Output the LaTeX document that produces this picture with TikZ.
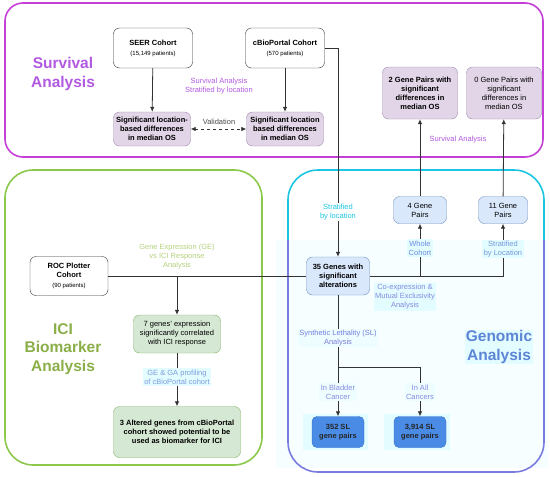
\documentclass[tikz,border=0pt]{standalone}
\usepackage{fontspec}
\setmainfont{Liberation Sans}
\usepackage{tikz}
\usetikzlibrary{arrows.meta, positioning}
\usepackage{xcolor}
\definecolor{survframe}{HTML}{C43FD6}
\definecolor{survtxt}{HTML}{B159E0}
\definecolor{iciframe}{HTML}{8CC84B}
\definecolor{icitxt}{HTML}{8AAE48}
\definecolor{icilbl}{HTML}{B4D07C}
\definecolor{gencyan}{HTML}{1CC6E2}
\definecolor{genblue}{HTML}{7A7DDD}
\definecolor{gentxt}{HTML}{5C85D6}
\definecolor{lblbg}{HTML}{E2FCFF}
\definecolor{purpfill}{HTML}{E1D5E7}
\definecolor{purpdraw}{HTML}{A08AAE}
\definecolor{grnfill}{HTML}{D5E8D4}
\definecolor{grndraw}{HTML}{82B366}
\definecolor{blufill}{HTML}{DAE8FC}
\definecolor{bludraw}{HTML}{6C8EBF}
\definecolor{slfill}{HTML}{4A8BE6}
\definecolor{sldraw}{HTML}{2C68CC}

\begin{document}
\begin{tikzpicture}[x=1pt, y=-1pt,
  cohort/.style={draw=black!80, fill=white, rounded corners=6pt, align=center,
                 inner sep=1pt, font=\fontsize{7.5}{9}\selectfont\bfseries},
  purp/.style={draw=purpdraw, fill=purpfill, rounded corners=6pt, align=center,
               inner sep=1pt, font=\fontsize{7.5}{9}\selectfont\bfseries},
  grn/.style={draw=grndraw, fill=grnfill, rounded corners=6pt, align=center,
              inner sep=1pt, font=\fontsize{7.5}{9}\selectfont\bfseries},
  blu/.style={draw=bludraw, fill=blufill, rounded corners=6pt, align=center,
              inner sep=1pt, font=\fontsize{7.5}{9}\selectfont\bfseries},
  slbox/.style={draw=sldraw, fill=slfill, rounded corners=5pt, align=center,
                inner sep=1pt, text=black!85, font=\fontsize{7.5}{9}\selectfont\bfseries,
                minimum width=52pt, minimum height=31pt},
  title/.style={align=center, font=\fontsize{15.5}{18.5}\selectfont\bfseries},
  lbl/.style={align=center, inner sep=1.5pt, font=\fontsize{7.5}{9}\selectfont},
  frame/.style={line width=1.6pt},
  arr/.style={-{Latex[length=5pt,width=4.5pt]}, draw=black!80, line width=0.8pt},
  biarr/.style={{Latex[length=5pt,width=4.5pt]}-{Latex[length=5pt,width=4.5pt]},
                draw=black!80, line width=0.8pt, dashed},
  plain/.style={draw=black!80, line width=0.8pt}]
\useasboundingbox (0,0) rectangle (550,477);

% frames
\fill[lblbg!30] (276,240) rectangle (548,468);
\draw[frame, survframe, rounded corners=18pt] (5,3) rectangle (543,157);
\draw[frame, iciframe, rounded corners=28pt] (5,170) rectangle (262,465);
\begin{scope}
  \clip (270,160) rectangle (550,240);
  \draw[frame, gencyan, rounded corners=30pt] (288,170) rectangle (544,472);
\end{scope}
\begin{scope}
  \clip (270,240) rectangle (550,480);
  \draw[frame, genblue, rounded corners=30pt] (288,170) rectangle (544,472);
\end{scope}

% titles
\node[title, text=survtxt] (survT) at (63,74) {Survival\\Analysis};
\node[title, text=icitxt] (iciT) at (63,349) {ICI\\Biomarker\\Analysis};
\node[title, text=gentxt, fill=lblbg, inner sep=1pt] (genT) at (499,347) {Genomic\\Analysis};

% survival analysis
\node[cohort, minimum width=79pt, minimum height=40pt] (seer) at (153,48)
  {SEER Cohort\\[1pt]{\fontsize{6}{7}\selectfont\mdseries (15,149 patients)}};
\node[cohort, minimum width=79pt, minimum height=40pt] (cbio) at (285,48)
  {cBioPortal Cohort\\[1pt]{\fontsize{6}{7}\selectfont\mdseries (570 patients)}};
\node[purp, minimum width=77pt, minimum height=34pt] (sig1) at (152,129)
  {Significant location-\\based differences\\in median OS};
\node[purp, minimum width=77pt, minimum height=34pt] (sig2) at (285,129)
  {Significant location\\based differences\\in median OS};
\node[purp, minimum width=75pt, minimum height=52pt] (gp2) at (420,93)
  {2 Gene Pairs with\\significant\\differences in\\median OS};
\node[purp, font=\fontsize{7.5}{9}\selectfont\mdseries, minimum width=75pt, minimum height=52pt] (gp0) at (504,93)
  {0 Gene Pairs with\\significant\\differences in\\median OS};

% ici biomarker analysis
\node[cohort, minimum width=78pt, minimum height=39pt] (roc) at (69,276)
  {ROC Plotter\\Cohort\\[1pt]{\fontsize{6}{7}\selectfont\mdseries (90 patients)}};
\node[grn, font=\fontsize{7.5}{9}\selectfont\mdseries, minimum width=87pt, minimum height=38pt] (ici7) at (177,334)
  {7 genes' expression\\significantly correlated\\with ICI response};
\node[grn, minimum width=127pt, minimum height=51pt] (ici3) at (177,432)
  {3 Altered genes from cBioPortal\\cohort showed potential to be\\used as biomarker for ICI};

% genomic analysis
\node[blu, minimum width=63pt, minimum height=38pt] (genes35) at (338,276)
  {35 Genes with\\significant\\alterations};
\node[blu, font=\fontsize{7.5}{9}\selectfont\mdseries, minimum width=53pt, minimum height=27pt] (pairs4) at (420,210)
  {4 Gene\\Pairs};
\node[blu, font=\fontsize{7.5}{9}\selectfont\mdseries, minimum width=49pt, minimum height=27pt] (pairs11) at (503,210)
  {11 Gene\\Pairs};
\fill[lblbg] (303,414) rectangle (368,450);
\fill[lblbg] (384,414) rectangle (450,450);
\node[slbox] (sl352) at (338,432) {352 SL\\gene pairs};
\node[slbox] (sl3914) at (420,432) {3,914 SL\\gene pairs};

% connectors
\coordinate (gebr) at (177,276);
\coordinate (wbr) at (420,276);
\coordinate (slbr) at (338,367);
\draw[arr] (seer) -- (sig1);
\draw[arr] (cbio) -- (sig2);
\draw[biarr] (sig1) -- (sig2);
\draw[arr] (cbio.east) -| (genes35.north);
\draw[plain] (roc.east) -- (genes35.west);
\draw[arr] (gebr) -- (ici7.north);
\draw[arr] (ici7) -- (ici3);
\draw[arr] (genes35.east) -| (pairs11.south);
\draw[arr] (wbr) -- (pairs4.south);
\draw[arr] (pairs4) -- (gp2);
\draw[arr] (pairs11) -- (gp0);
\draw[arr] (genes35) -- (sl352);
\draw[arr] (slbr) -| (sl3914.north);

% labels
\node[lbl, text=survtxt] (lSurvLoc) at (219,86) {Survival Analysis\\Stratified by location};
\node[lbl, text=black!70, fill=white, inner sep=0.5pt] (lValid) at (219,122) {Validation};
\node[lbl, text=survtxt] (lSurvGP) at (458,140) {Survival Analysis};
\node[lbl, text=icilbl] (lGE) at (177,257) {Gene Expression (GE)\\vs ICI Response\\Analysis};
\node[lbl, text=gentxt!80, fill=lblbg] (lGEGA) at (177,377) {GE \& GA profiling\\of cBioPortal cohort};
\node[lbl, text=gencyan, fill=white] (lStrat) at (338,212) {Stratified\\by location};
\node[lbl, text=genblue!90!cyan, fill=lblbg] (lWhole) at (420,248) {Whole\\Cohort};
\node[lbl, text=gentxt!85, fill=lblbg] (lStratL) at (503,249) {Stratified\\by Location};
\node[lbl, text=genblue!90, fill=lblbg] (lCoex) at (405,297)
  {Co-expression \&\\Mutual Exclusivity\\Analysis};
\node[lbl, text=genblue, fill=lblbg!60] (lSL) at (338,338) {Synthetic Lethality (SL)\\Analysis};
\node[lbl, text=genblue!90, fill=lblbg!60] (lBlad) at (338,392) {In Bladder\\Cancer};
\node[lbl, text=genblue!90, fill=lblbg!60] (lAll) at (420,392) {In All\\Cancers};
\end{tikzpicture}
\end{document}
